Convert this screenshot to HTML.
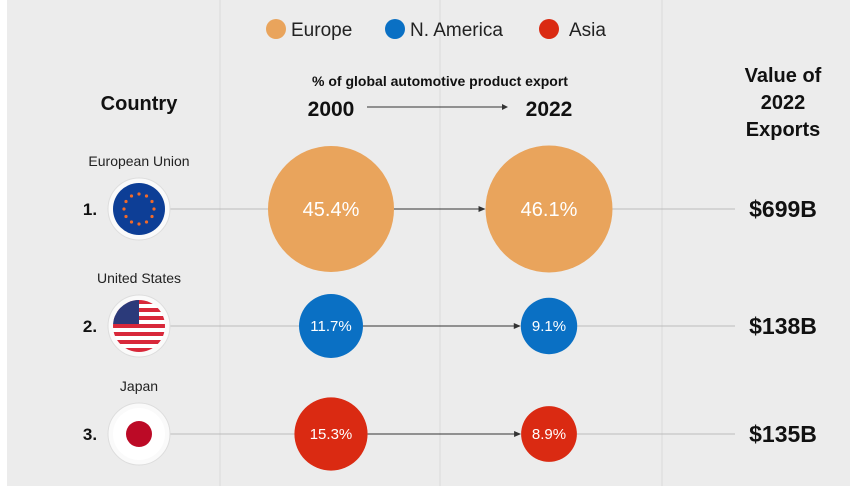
<!DOCTYPE html>
<html><head><meta charset="utf-8"><style>
body{margin:0;background:#fff;}
svg text{font-family:"Liberation Sans",sans-serif;}
</style></head><body>
<svg id="chart" width="850" height="486" viewBox="0 0 850 486" xmlns="http://www.w3.org/2000/svg">
<rect x="0" y="0" width="850" height="486" fill="#fff"/>
<rect x="7" y="0" width="843" height="486" fill="#ececec"/>
<g stroke="#e3e3e3" stroke-width="2">
<line x1="220" y1="0" x2="220" y2="486"/><line x1="440" y1="0" x2="440" y2="486"/><line x1="662" y1="0" x2="662" y2="486"/>
</g>
<g>
<g><circle cx="276" cy="29" r="10" fill="#e9a45c"/><text x="291" y="36" font-size="19" fill="#222">Europe</text></g>
<g><circle cx="395" cy="29" r="10" fill="#0a70c4"/><text x="410" y="36" font-size="19" fill="#222">N. America</text></g>
<g><circle cx="549" cy="29" r="10" fill="#da2a12"/><text x="569" y="36" font-size="19" fill="#222">Asia</text></g>
</g>
<text x="139" y="110" font-size="20" font-weight="bold" text-anchor="middle" fill="#111">Country</text>
<text x="440" y="86" font-size="14" font-weight="bold" text-anchor="middle" fill="#111">% of global automotive product export</text>
<text x="331" y="116" font-size="21" font-weight="bold" text-anchor="middle" fill="#111">2000</text>
<text x="549" y="116" font-size="21" font-weight="bold" text-anchor="middle" fill="#111">2022</text>
<line x1="367" y1="107" x2="507" y2="107" stroke="#333" stroke-width="1"/>
<path d="M508 107 l-6 -3 v6z" fill="#333"/>
<g font-size="20" font-weight="bold" text-anchor="middle" fill="#111">
<text x="783" y="82">Value of</text><text x="783" y="109">2022</text><text x="783" y="136">Exports</text>
</g>
<g id="rows"></g>
</svg>
<script>
const countries=["European Union","United States","Japan"];
const share2000=[45.4,11.7,15.3];
const share2022=[46.1,9.1,8.9];
const exportValues=["$699B","$138B","$135B"];
const regions=["Europe","N. America","Asia"];
const colors={"Europe":"#e9a45c","N. America":"#0a70c4","Asia":"#da2a12"};
const rowY=[209,326,434];
const NS="http://www.w3.org/2000/svg";
const rScale=v=>9.35*Math.sqrt(v);
const x2000=331,x2022=549,xFlag=139,xVal=783;
const g=document.getElementById('rows');
function mk(t,a,p){const e=document.createElementNS(NS,t);for(const k in a)e.setAttribute(k,a[k]);(p||g).appendChild(e);return e;}
countries.forEach((c,i)=>{
 const y=rowY[i];
 const row=mk('g',{});
 
 
 const r0=rScale(share2000[i]),r1=rScale(share2022[i]);
 mk('line',{x1:xFlag,y1:y,x2:x2000-r0,y2:y,stroke:'#bbb','stroke-width':1},row);
 mk('line',{x1:x2022+r1,y1:y,x2:735,y2:y,stroke:'#bbb','stroke-width':1},row);
 const ar=mk('line',{x1:x2000+r0,y1:y,x2:x2022-r1-2,y2:y,stroke:'#333','stroke-width':1},row);
 
 
 mk('path',{d:`M${x2022-r1} ${y} l-7 -3 v6z`,fill:'#333'},row);
 const lbl=mk('text',{x:xFlag,y:y-43,'font-size':14,'text-anchor':'middle',fill:'#222'},row);lbl.textContent=c;
 
 
 const rk=mk('text',{x:90,y:y+6,'font-size':17,'font-weight':'bold','text-anchor':'middle',fill:'#111'},row);rk.textContent=(i+1)+'.';
 
 
 const fl=mk('g',{},row);
 
 
 mk('circle',{cx:xFlag,cy:y,r:31,fill:'#fafafa',stroke:'#ddd','stroke-width':1},fl);
 if(i===0){mk('circle',{cx:xFlag,cy:y,r:26,fill:'#0d3e96'},fl);
  for(let k=0;k<12;k++){const a=k*Math.PI/6;mk('circle',{cx:xFlag+15*Math.cos(a),cy:y+15*Math.sin(a),r:1.6,fill:'#f06a2a'},fl);}}
 else if(i===1){const cp=mk('clipPath',{id:'usclip'},fl);mk('circle',{cx:xFlag,cy:y,r:26},cp);
  const fg=mk('g',{'clip-path':'url(#usclip)'},fl);
  for(let k=0;k<13;k++)mk('rect',{x:xFlag-26,y:y-26+k*4,width:52,height:4,fill:k%2?'#fff':'#d8283a'},fg);
  mk('rect',{x:xFlag-26,y:y-26,width:26,height:24,fill:'#2b3a7a'},fg);}
 else{mk('circle',{cx:xFlag,cy:y,r:26,fill:'#fff'},fl);mk('circle',{cx:xFlag,cy:y,r:13,fill:'#bc0a26'},fl);}
 const col=colors[regions[i]];
 [[x2000,r0,share2000[i],'bubble-2000'],[x2022,r1,share2022[i],'bubble-2022']].forEach(([x,r,v,n])=>{
  const b=mk('circle',{cx:x,cy:y,r:r,fill:col},row);
  
  
  const t=mk('text',{x:x,y:y+(r>50?7:5),'font-size':r>50?20:15,'text-anchor':'middle',fill:'#fff'},row);t.textContent=v.toFixed(1)+'%';
  
  
 });
 const vt=mk('text',{x:xVal,y:y+8,'font-size':23,'font-weight':'bold','text-anchor':'middle',fill:'#111'},row);vt.textContent=exportValues[i];
 
 
});
</script>
</body></html>
